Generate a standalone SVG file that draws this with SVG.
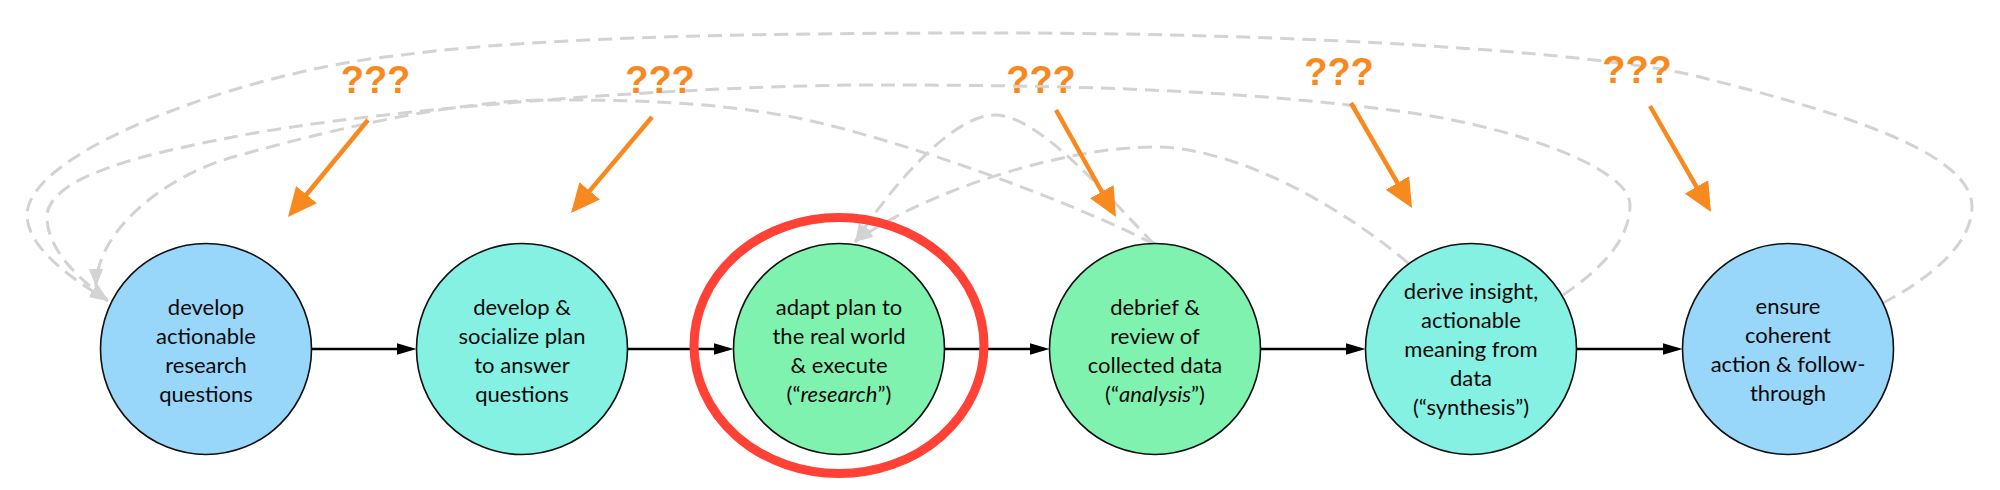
<svg xmlns="http://www.w3.org/2000/svg" width="2000" height="490" viewBox="0 0 2000 490">
<defs>
<style>
.node circle{stroke:#111;stroke-width:1.6}
.blue{fill:#98D6FA}
.aqua{fill:#84F1E2}
.green{fill:#80F2B0}
.node text{font-family:Lato,"Open Sans","Liberation Sans",sans-serif;font-size:22px;fill:#0a0a0a;text-anchor:middle}
.flow{stroke:#000;stroke-width:2.6;fill:none;marker-end:url(#blk)}
.fb{stroke:#D3D3D3;stroke-width:3;stroke-dasharray:14 8;fill:none;marker-end:url(#gry)}
.q{stroke:#F7891F;stroke-width:4.5;fill:none;marker-end:url(#org)}
.qt{font-family:"Liberation Sans",Arial,sans-serif;font-weight:bold;font-size:38px;fill:#F7891F;text-anchor:middle}
</style>
<marker id="blk" markerUnits="userSpaceOnUse" markerWidth="20" markerHeight="12" refX="15" refY="6" orient="auto"><path d="M0,0 L20,6 L0,12 z" fill="#000"/></marker>
<marker id="gry" markerUnits="userSpaceOnUse" markerWidth="18" markerHeight="14" refX="18" refY="7" orient="auto"><path d="M0,0 L18,7 L0,14 z" fill="#D3D3D3"/></marker>
<marker id="org" markerUnits="userSpaceOnUse" markerWidth="29" markerHeight="27" refX="21" refY="13.5" orient="auto"><path d="M0,0 L29,13.5 L0,27 z" fill="#F7891F"/></marker>
</defs>
<rect width="2000" height="490" fill="#fff"/>
<g id="connectors">
<g id="feedback">
<path class="fb" d="M1883,303 C1923,282 1972,247 1972,207 C1972,150 1830,110 1700,77 C1600,52 1300,33 1000,33 C800,33 550,35 402,55 C250,70 27,150 27,215 C27,250 78,282 108,301"/>
<path class="fb" d="M1563,295 C1600,270 1630,240 1630,205 C1630,165 1500,125 1412,113 C1234,88 1050,85 873,85 C700,85 380,108 233,137 C155,152 47,175 47,217 C47,250 80,280 108,300"/>
<path class="fb" d="M1154,244 C1065,199 917,146 820,123 C723,100 620,100 550,100 C450,100 319,133 233,157 C166,176 96,230 96,287"/>
<path class="fb" d="M1154,244 C1112,201 1040,115 995,115 C950,115 887,193 855,242"/>
<path class="fb" d="M1408,263 C1347,211 1240,147 1154,147 C1060,147 919,194 855,242"/>
</g>
<g id="flow">
<path class="flow" d="M311.5,349 H411.5"/>
<path class="flow" d="M627.5,349 H728.5"/>
<path class="flow" d="M944.5,349 H1044.5"/>
<path class="flow" d="M1260.5,349 H1360.5"/>
<path class="flow" d="M1576.5,349 H1677.5"/>
</g>
<g id="questions">
<path class="q" d="M368,120 L293.1,210.8"/>
<path class="q" d="M652,117 L576.2,206.9"/>
<path class="q" d="M1056,110 L1112.1,210"/>
<path class="q" d="M1351,103 L1408,201.1"/>
<path class="q" d="M1650,106 L1707,205.1"/>
</g>
</g>
<g id="labels">
<text class="qt" x="375.5" y="93">???</text>
<text class="qt" x="660" y="93">???</text>
<text class="qt" x="1041" y="93">???</text>
<text class="qt" x="1339" y="85">???</text>
<text class="qt" x="1637" y="83">???</text>
</g>
<g id="n1" class="node"><circle class="blue" cx="206" cy="349" r="105.5"/>
<text x="206" y="315">develop</text><text x="206" y="344">actionable</text><text x="206" y="373">research</text><text x="206" y="402">questions</text></g>
<g id="n2" class="node"><circle class="aqua" cx="522" cy="349" r="105.5"/>
<text x="522" y="315">develop &amp;</text><text x="522" y="344">socialize plan</text><text x="522" y="373">to answer</text><text x="522" y="402">questions</text></g>
<g id="n3" class="node"><circle class="green" cx="839" cy="349" r="105.5"/>
<text x="839" y="315">adapt plan to</text><text x="839" y="344">the real world</text><text x="839" y="373">&amp; execute</text><text x="839" y="402">(“<tspan font-style="italic">research</tspan>”)</text></g>
<g id="n4" class="node"><circle class="green" cx="1155" cy="349" r="105.5"/>
<text x="1155" y="315">debrief &amp;</text><text x="1155" y="344">review of</text><text x="1155" y="373">collected data</text><text x="1155" y="402">(“<tspan font-style="italic">analysis</tspan>”)</text></g>
<g id="n5" class="node"><circle class="aqua" cx="1471" cy="349" r="105.5"/>
<text x="1471" y="299">derive insight,</text><text x="1471" y="328">actionable</text><text x="1471" y="357">meaning from</text><text x="1471" y="386">data</text><text x="1471" y="415">(“synthesis”)</text></g>
<g id="n6" class="node"><circle class="blue" cx="1788" cy="349" r="105.5"/>
<text x="1788" y="314">ensure</text><text x="1788" y="343">coherent</text><text x="1788" y="372">action &amp; follow-</text><text x="1788" y="401">through</text></g>
<g id="highlight"><ellipse cx="839" cy="345.5" rx="145" ry="128" fill="none" stroke="#FF4136" stroke-width="9"/></g>
</svg>
